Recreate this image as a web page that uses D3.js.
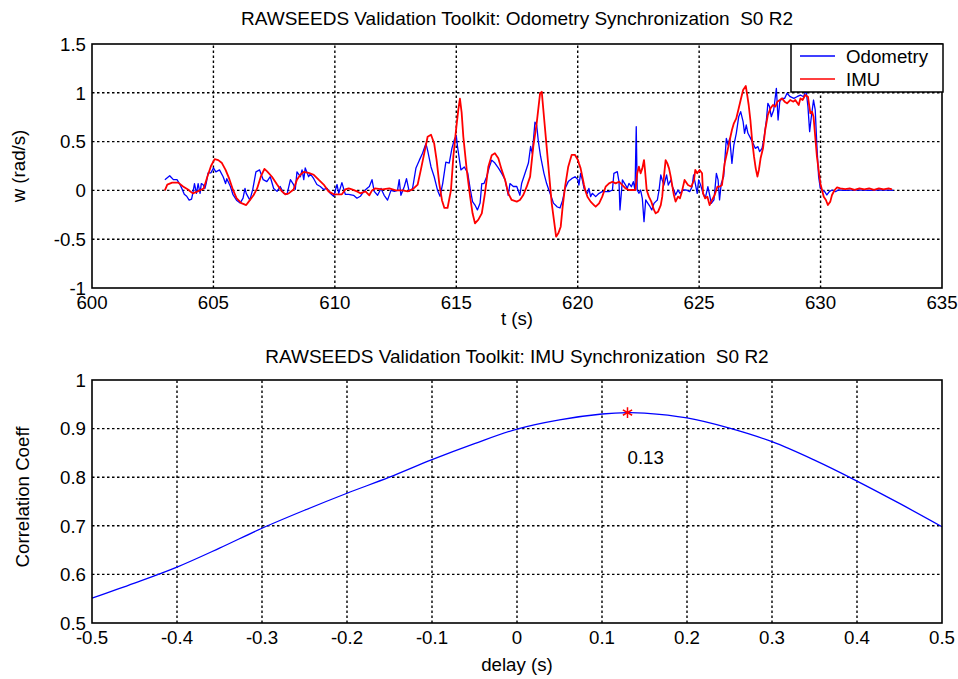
<!DOCTYPE html>
<html>
<head>
<meta charset="utf-8">
<script src="https://cdn.jsdelivr.net/npm/d3@7"></script>
<style>
  html, body { margin: 0; padding: 0; background: #fff; }
  svg { display: block; }
  text { font-family: "Liberation Sans", Arial, Helvetica, sans-serif; fill: #000; white-space: pre; }
</style>
</head>
<body>
<svg id="fig" width="958" height="679"></svg>
<script>
// ---- Odometry angular speed (time in s, w in rad/s)
const odomT = [603.0,603.2,603.35,603.5,603.6,603.7,603.8,603.9,604.0,604.1,604.15,604.22,604.3,604.37,604.45,604.5,604.57,604.65,604.7,604.78,604.9,605.0,605.1,605.25,605.4,605.5,605.55,605.7,605.8,605.95,606.1,606.22,606.3,606.35,606.5,606.62,606.75,606.9,607.05,607.2,607.34,607.48,607.62,607.75,607.89,608.03,608.17,608.3,608.37,608.44,608.58,608.65,608.72,608.78,608.92,608.99,609.13,609.26,609.4,609.54,609.68,609.81,609.95,610.09,610.16,610.29,610.43,610.57,610.77,610.91,611.05,611.19,611.32,611.42,611.53,611.62,611.76,611.9,612.03,612.17,612.31,612.45,612.58,612.65,612.72,612.86,612.95,613.06,613.2,613.34,613.48,613.61,613.75,613.82,613.96,614.09,614.23,614.33,614.44,614.57,614.71,614.82,614.92,615.0,615.05,615.19,615.33,615.47,615.57,615.67,615.77,615.87,615.98,616.05,616.14,616.25,616.36,616.46,616.59,616.73,616.87,617.01,617.14,617.21,617.35,617.49,617.62,617.69,617.83,617.97,618.06,618.13,618.24,618.31,618.38,618.47,618.61,618.72,618.86,619.0,619.16,619.27,619.38,619.48,619.61,619.75,619.89,620.01,620.05,620.12,620.19,620.26,620.4,620.46,620.53,620.6,620.74,620.88,621.01,621.15,621.29,621.43,621.49,621.63,621.7,621.74,621.84,621.97,622.04,622.11,622.21,622.29,622.36,622.41,622.45,622.52,622.59,622.66,622.73,622.8,622.89,622.98,623.05,623.14,623.21,623.28,623.35,623.42,623.48,623.55,623.66,623.73,623.83,623.9,623.96,624.03,624.13,624.21,624.33,624.47,624.61,624.71,624.77,624.84,624.92,624.98,625.06,625.16,625.25,625.36,625.43,625.5,625.61,625.71,625.78,625.84,625.91,626.01,626.12,626.19,626.26,626.35,626.43,626.53,626.63,626.71,626.81,626.87,626.94,627.01,627.12,627.22,627.31,627.42,627.49,627.59,627.67,627.77,627.83,627.9,627.97,628.07,628.18,628.25,628.32,628.41,628.52,628.62,628.75,628.9,629.03,629.17,629.3,629.4,629.48,629.55,629.62,629.71,629.78,629.85,629.92,629.99,630.06,630.17,630.26,630.36,630.47,630.61,630.74,631.0,631.5,632.0,632.5,633.0];
const odomW = [0.11,0.15,0.11,0.11,0.07,0.02,-0.04,-0.06,-0.10,-0.09,-0.03,0.07,-0.03,0.07,-0.03,0.07,0.06,0.02,0.07,0.18,0.18,0.23,0.19,0.21,0.14,0.07,0.12,0.04,-0.04,-0.10,-0.13,-0.08,0.02,-0.03,-0.10,0.01,0.19,0.21,0.11,0.09,0.14,0.02,-0.01,0.04,-0.03,-0.04,0.11,0.06,0.01,0.19,0.14,0.21,0.11,0.23,0.14,0.17,0.12,0.06,0.04,0.01,0.02,-0.03,-0.06,0.06,-0.03,0.08,-0.04,-0.04,-0.05,-0.08,-0.06,-0.01,0.02,0.04,0.11,-0.01,-0.05,0.02,-0.05,-0.10,0.00,-0.01,0.00,0.11,-0.05,0.04,0.12,-0.01,0.02,0.23,0.31,0.38,0.48,0.41,0.24,0.14,0.00,-0.06,0.07,0.29,0.28,0.43,0.52,0.56,0.45,0.21,0.24,0.18,0.02,-0.115,-0.15,-0.20,-0.13,0.07,0.07,0.14,0.24,0.31,0.28,0.23,0.175,0.11,-0.05,0.07,0.04,0.04,-0.05,0.07,0.175,0.28,0.45,0.38,0.70,0.67,0.50,0.35,0.175,0.07,-0.03,-0.13,-0.17,-0.18,-0.10,0.02,0.09,0.12,0.14,0.11,0.055,0.175,0.107,0.021,-0.03,0.021,-0.064,-0.03,-0.064,-0.03,-0.013,-0.013,-0.013,0.004,0.175,0.192,0.089,-0.2,0.107,0.055,0.021,0.072,0.038,0.089,0.004,0.653,0.004,-0.03,0.004,-0.081,-0.32,-0.098,-0.133,-0.167,-0.2,-0.133,-0.115,-0.098,0.004,0.158,0.107,0.055,0.158,0.055,0.107,0.038,0.004,-0.047,0.004,-0.03,0.004,0.004,-0.013,0.038,0.158,0.072,-0.03,0.107,0.055,-0.03,-0.081,0.038,-0.047,-0.133,-0.098,0.175,0.107,-0.098,0.072,0.141,0.533,0.465,0.533,0.277,0.465,0.585,0.755,0.807,0.704,0.585,0.67,0.585,0.533,0.482,0.431,0.448,0.397,0.431,0.533,0.721,0.892,0.858,0.755,0.824,1.046,0.721,0.909,0.943,0.943,0.995,0.96,0.943,0.96,0.977,0.96,1.03,0.858,0.602,0.755,0.926,0.824,0.448,0.141,0.021,0.004,-0.013,-0.047,-0.013,0.004,-0.013,0.004,0.0,0.005,0.0,0.005,0.0];

// ---- IMU angular speed
const imuT = [603.0,603.1,603.3,603.55,603.75,603.95,604.15,604.35,604.6,604.75,604.9,605.05,605.2,605.35,605.5,605.65,605.8,605.95,606.15,606.35,606.5,606.65,606.8,606.95,607.1,607.21,607.41,607.62,607.82,607.96,608.1,608.3,608.44,608.58,608.72,608.92,609.13,609.33,609.54,609.74,609.95,610.16,610.29,610.43,610.57,610.7,610.91,611.05,611.26,611.42,611.53,611.65,611.96,612.24,612.51,612.79,613.0,613.2,613.41,613.54,613.68,613.82,613.96,614.09,614.19,614.3,614.41,614.51,614.64,614.78,614.88,614.99,615.08,615.15,615.22,615.29,615.43,615.57,615.67,615.77,615.91,616.05,616.18,616.32,616.46,616.59,616.73,616.87,617.01,617.14,617.28,617.49,617.62,617.76,617.9,618.04,618.17,618.31,618.45,618.52,618.61,618.72,618.83,618.93,619.02,619.11,619.2,619.3,619.38,619.48,619.61,619.75,619.89,620.01,620.05,620.12,620.19,620.26,620.33,620.4,620.53,620.67,620.74,620.88,621.01,621.15,621.29,621.43,621.56,621.7,621.84,621.97,622.11,622.25,622.38,622.45,622.52,622.59,622.66,622.73,622.77,622.84,622.93,623.03,623.14,623.21,623.31,623.42,623.48,623.55,623.62,623.69,623.76,623.83,623.9,623.96,624.03,624.13,624.21,624.29,624.4,624.54,624.68,624.79,624.84,624.92,625.02,625.12,625.16,625.25,625.34,625.43,625.53,625.64,625.75,625.84,625.94,626.05,626.16,626.26,626.35,626.43,626.53,626.63,626.71,626.81,626.92,626.98,627.04,627.11,627.18,627.26,627.33,627.4,627.46,627.53,627.63,627.72,627.83,627.94,628.04,628.14,628.22,628.32,628.41,628.52,628.62,628.75,628.88,628.96,629.1,629.17,629.26,629.37,629.48,629.58,629.65,629.71,629.78,629.85,629.92,629.99,630.06,630.13,630.22,630.3,630.4,630.47,630.58,630.68,630.81,631.02,631.2,631.4,631.6,631.8,632.0,632.2,632.4,632.6,632.8,632.94];
const imuW = [0.0,0.06,0.08,0.08,0.04,0.01,-0.03,-0.01,0.02,0.14,0.25,0.32,0.31,0.28,0.21,0.12,0.01,-0.08,-0.13,-0.15,-0.10,-0.05,0.02,0.14,0.22,0.195,0.14,0.06,-0.01,-0.04,-0.03,0.01,0.11,0.16,0.19,0.18,0.16,0.11,0.06,-0.01,-0.04,-0.04,-0.04,0.01,0.02,0.01,-0.01,-0.03,-0.01,-0.05,0.00,0.02,0.01,0.02,0.00,0.00,-0.01,0.01,0.06,0.21,0.38,0.55,0.57,0.48,0.31,0.07,-0.10,-0.18,-0.18,0.00,0.35,0.62,0.82,0.94,0.80,0.55,0.21,-0.065,-0.235,-0.337,-0.30,-0.235,-0.03,0.243,0.36,0.38,0.33,0.21,0.107,-0.03,-0.098,-0.115,-0.098,-0.047,0.038,0.141,0.448,0.687,0.995,1.01,0.755,0.448,0.141,-0.133,-0.303,-0.474,-0.44,-0.372,-0.167,0.038,0.243,0.363,0.363,0.311,0.277,0.226,0.141,0.055,-0.013,-0.064,-0.115,-0.15,-0.167,-0.133,-0.064,0.038,0.072,0.089,0.072,0.089,0.055,0.021,0.004,0.004,0.004,0.175,0.243,0.175,0.226,0.311,0.209,0.004,-0.064,-0.115,-0.2,-0.235,-0.218,-0.15,-0.064,0.141,0.311,0.277,0.226,0.141,0.038,-0.047,-0.115,-0.064,-0.081,-0.013,0.107,0.055,0.038,0.107,0.209,0.175,0.209,0.175,-0.03,-0.081,-0.065,-0.15,-0.098,-0.047,0.038,0.038,0.055,0.277,0.397,0.516,0.619,0.687,0.738,0.841,0.926,1.029,1.07,0.977,0.875,0.721,0.516,0.346,0.226,0.141,0.209,0.329,0.431,0.619,0.773,0.841,0.875,0.858,0.909,0.926,0.943,0.909,0.892,0.926,0.909,0.926,0.875,0.943,0.926,0.977,0.96,0.79,0.807,0.755,0.55,0.346,0.209,0.072,0.004,-0.065,-0.098,-0.15,-0.115,-0.047,0.004,0.031,0.021,0.014,0.02,0.005,0.02,0.01,0.02,0.005,0.02,0.01,0.02,0.01];

// ---- Correlation coefficient vs. delay
const delays = [-0.5,-0.45,-0.4,-0.35,-0.3,-0.25,-0.2,-0.15,-0.1,-0.05,0,0.05,0.1,0.13,0.15,0.2,0.25,0.3,0.35,0.4,0.45,0.5];
const corrCoeff = [0.551,0.582,0.615,0.654,0.695,0.732,0.767,0.800,0.836,0.869,0.899,0.918,0.930,0.933,0.932,0.922,0.901,0.873,0.835,0.792,0.746,0.698];
const bestDelay = 0.13;
const bestCorr = 0.933;

// ---- Axis ticks
const topXTicks = [600,605,610,615,620,625,630,635];
const topYTicks = [-1,-0.5,0,0.5,1,1.5];
const botXTicks = [-0.5,-0.4,-0.3,-0.2,-0.1,0,0.1,0.2,0.3,0.4,0.5];
const botYTicks = [0.5,0.6,0.7,0.8,0.9,1];

const seriesNames = ["Odometry", "IMU"];
const seriesColors = ["#0000ff", "#ff0000"];

const svg = d3.select("#fig");
const TICK_FONT = 18.7, TITLE_FONT = 19;

function drawAxes(g, x, y, xt, yt, fmtX, fmtY) {
  const [x0, x1] = x.range(), [y0, y1] = y.range();
  // dotted grid at the interior ticks
  g.append("g").selectAll("line").data(xt.slice(1, -1)).join("line")
    .attr("x1", d => x(d)).attr("x2", d => x(d)).attr("y1", y0).attr("y2", y1)
    .attr("stroke", "#000").attr("stroke-width", 1.4).attr("stroke-dasharray", "2.5,2.5");
  g.append("g").selectAll("line").data(yt.slice(1, -1)).join("line")
    .attr("y1", d => y(d)).attr("y2", d => y(d)).attr("x1", x0).attr("x2", x1)
    .attr("stroke", "#000").attr("stroke-width", 1.4).attr("stroke-dasharray", "2.5,2.5");
  // tick labels
  g.append("g").selectAll("text").data(xt).join("text")
    .attr("x", d => x(d)).attr("y", y0 + 21).attr("text-anchor", "middle")
    .attr("font-size", TICK_FONT).text(fmtX);
  g.append("g").selectAll("text").data(yt).join("text")
    .attr("x", x0 - 6).attr("y", d => y(d)).attr("dy", "0.36em").attr("text-anchor", "end")
    .attr("font-size", TICK_FONT).text(fmtY);
}

function drawBox(g, x, y) {
  const [x0, x1] = x.range(), [y0, y1] = y.range();
  g.append("rect").attr("x", x0).attr("y", y1).attr("width", x1 - x0).attr("height", y0 - y1)
    .attr("fill", "none").attr("stroke", "#000").attr("stroke-width", 1.6);
}

const fmt = d => String(d);

// ================= Top panel: angular speed vs time
const xTop = d3.scaleLinear().domain([600, 635]).range([92, 942]);
const yTop = d3.scaleLinear().domain([-1, 1.5]).range([288, 44]);
const gTop = svg.append("g");
drawAxes(gTop, xTop, yTop, topXTicks, topYTicks, fmt, fmt);

svg.append("clipPath").attr("id", "clipTop").append("rect")
  .attr("x", 92).attr("y", 44).attr("width", 850).attr("height", 244);

const lineTop = d3.line().x(d => xTop(d[0])).y(d => yTop(d[1]));
const odom = odomT.map((t, i) => [t, odomW[i]]);
const imu = imuT.map((t, i) => [t, imuW[i]]);
gTop.append("path").datum(odom).attr("d", lineTop).attr("clip-path", "url(#clipTop)")
  .attr("fill", "none").attr("stroke", seriesColors[0]).attr("stroke-width", 1.3).attr("stroke-linejoin", "round");
gTop.append("path").datum(imu).attr("d", lineTop).attr("clip-path", "url(#clipTop)")
  .attr("fill", "none").attr("stroke", seriesColors[1]).attr("stroke-width", 1.8).attr("stroke-linejoin", "round");
drawBox(gTop, xTop, yTop);

gTop.append("text").attr("x", 517).attr("y", 24.5).attr("text-anchor", "middle")
  .attr("xml:space", "preserve")
  .attr("font-size", TITLE_FONT).text("RAWSEEDS Validation Toolkit: Odometry Synchronization  S0 R2");
gTop.append("text").attr("x", 517).attr("y", 324.5).attr("text-anchor", "middle")
  .attr("font-size", TICK_FONT).text("t (s)");
gTop.append("text").attr("transform", "translate(25,166) rotate(-90)").attr("text-anchor", "middle")
  .attr("font-size", TICK_FONT).text("w (rad/s)");

// legend
const leg = gTop.append("g");
leg.append("rect").attr("x", 791).attr("y", 44).attr("width", 152).attr("height", 48)
  .attr("fill", "#fff").attr("stroke", "#000").attr("stroke-width", 1.5);
seriesNames.forEach((name, i) => {
  const ly = 56 + i * 23;
  leg.append("line").attr("x1", 800).attr("x2", 835).attr("y1", ly).attr("y2", ly)
    .attr("stroke", seriesColors[i]).attr("stroke-width", 1.6);
  leg.append("text").attr("x", 846).attr("y", ly).attr("dy", "0.36em")
    .attr("font-size", TICK_FONT).text(name);
});

// ================= Bottom panel: correlation vs delay
const xBot = d3.scaleLinear().domain([-0.5, 0.5]).range([92, 942]);
const yBot = d3.scaleLinear().domain([0.5, 1]).range([623, 380]);
const gBot = svg.append("g");
drawAxes(gBot, xBot, yBot, botXTicks, botYTicks, fmt, fmt);

const lineBot = d3.line().x(d => xBot(d[0])).y(d => yBot(d[1])).curve(d3.curveCatmullRom);
gBot.append("path").datum(delays.map((d, i) => [d, corrCoeff[i]])).attr("d", lineBot)
  .attr("fill", "none").attr("stroke", "#0000ff").attr("stroke-width", 1.3);
gBot.append("path")
  .attr("d", d3.symbol(d3.symbolAsterisk, 80)())
  .attr("transform", `translate(${xBot(bestDelay)},${yBot(bestCorr)})`)
  .attr("fill", "none").attr("stroke", "#ff0000").attr("stroke-width", 1.5);
gBot.append("text").attr("x", xBot(bestDelay)).attr("y", yBot(bestCorr - 0.093)).attr("dy", "0.36em")
  .attr("font-size", TICK_FONT).text(String(bestDelay));
drawBox(gBot, xBot, yBot);

gBot.append("text").attr("x", 517).attr("y", 362.5).attr("text-anchor", "middle")
  .attr("xml:space", "preserve")
  .attr("font-size", TITLE_FONT).text("RAWSEEDS Validation Toolkit: IMU Synchronization  S0 R2");
gBot.append("text").attr("x", 517).attr("y", 671).attr("text-anchor", "middle")
  .attr("font-size", TICK_FONT).text("delay (s)");
gBot.append("text").attr("transform", "translate(29,497) rotate(-90)").attr("text-anchor", "middle")
  .attr("font-size", TICK_FONT).text("Correlation Coeff");
</script>
</body>
</html>
